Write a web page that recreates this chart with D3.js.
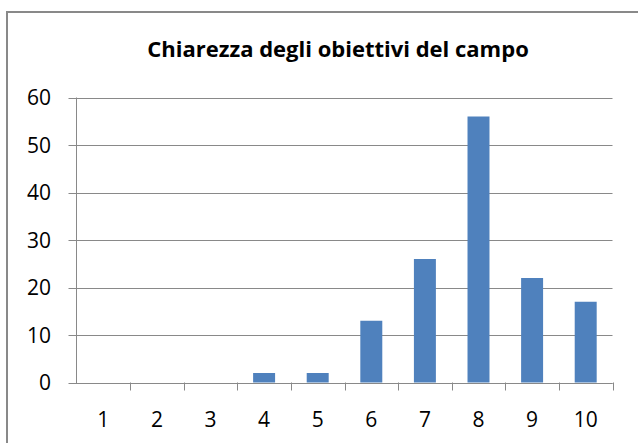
<!DOCTYPE html>
<html>
<head>
<meta charset="utf-8">
<script src="https://cdn.jsdelivr.net/npm/d3@7"></script>
<style>
  body { margin: 0; background: #fff; }
  svg { display: block; font-family: "Open Sans", "Liberation Sans", sans-serif; }
</style>
</head>
<body>
<svg id="chart" width="638" height="443"></svg>
<script>
// chart data
let categories = ['1', '2', '3', '4', '5', '6', '7', '8', '9', '10'];
let values = [0, 0, 0, 2, 2, 13, 26, 56, 22, 17];
let yTicks = [0, 10, 20, 30, 40, 50, 60];
let title = 'Chiarezza degli obiettivi del campo';

let svg = d3.select('#chart'),
    width = +svg.attr('width'),
    height = +svg.attr('height');

let margin = {top: 97.5, right: 25.5, bottom: 60.5, left: 76.5};

const gray = '#898989';

// outer frame (runs off the right and bottom edges)
svg.append('rect')
  .attr('x', 7)
  .attr('y', 12)
  .attr('width', 700)
  .attr('height', 500)
  .attr('fill', '#fff')
  .attr('stroke', gray)
  .attr('stroke-width', 2);

let x = d3.scaleBand()
  .domain(categories)
  .range([margin.left, width - margin.right])
  .paddingInner(0.59)
  .paddingOuter(0.295);

let band = d3.scaleBand()
  .domain(categories)
  .range([margin.left, width - margin.right]);

let y = d3.scaleLinear()
  .domain([0, 60])
  .range([height - margin.bottom, margin.top]);

// gridlines
svg.append('g')
  .selectAll('line')
  .data(yTicks)
  .enter()
  .append('line')
  .attr('x1', margin.left - 8)
  .attr('x2', width - margin.right)
  .attr('y1', (d) => Math.round(y(d)) + 0.5)
  .attr('y2', (d) => Math.round(y(d)) + 0.5)
  .attr('stroke', gray)
  .attr('stroke-width', 1);

// y axis line
svg.append('line')
  .attr('x1', margin.left)
  .attr('x2', margin.left)
  .attr('y1', y(60))
  .attr('y2', y(0) + 1)
  .attr('stroke', gray);

// bars
svg.append('g')
  .selectAll('rect')
  .data(values)
  .enter()
  .append('rect')
  .attr('x', (d, i) => x(categories[i]))
  .attr('width', x.bandwidth())
  .attr('y', (d) => y(d))
  .attr('height', (d) => y(0) - y(d))
  .attr('fill', '#4F81BD');

// x axis
let xAxis = svg.append('g')
  .attr('transform', `translate(0,${Math.round(y(0)) + 0.5})`)
  .call(d3.axisBottom(band)
    .tickSize(0)
    .tickFormat(''));
xAxis.select('.domain').attr('stroke', gray).attr('d', `M${margin.left},0H${width - margin.right}`);

// x tick marks at category boundaries
svg.append('g')
  .selectAll('line')
  .data(categories)
  .enter()
  .append('line')
  .attr('x1', (d) => Math.round(band(d) + band.bandwidth()) + 0.5)
  .attr('x2', (d) => Math.round(band(d) + band.bandwidth()) + 0.5)
  .attr('y1', y(0))
  .attr('y2', y(0) + 8)
  .attr('stroke', gray);

// x labels
svg.append('g')
  .selectAll('text')
  .data(categories)
  .enter()
  .append('text')
  .text((d) => d)
  .attr('x', (d) => band(d) + band.bandwidth() / 2)
  .attr('y', 427)
  .attr('text-anchor', 'middle')
  .attr('font-size', 21)
  .attr('fill', '#000');

// y labels
svg.append('g')
  .selectAll('text')
  .data(yTicks)
  .enter()
  .append('text')
  .text((d) => d)
  .attr('x', 51)
  .attr('y', (d) => y(d) + 7.5)
  .attr('text-anchor', 'end')
  .attr('font-size', 21)
  .attr('fill', '#000');

// title
svg.append('text')
  .text(title)
  .attr('x', 338)
  .attr('y', 57)
  .attr('text-anchor', 'middle')
  .attr('font-size', 22)
  .attr('font-weight', 'bold')
  .attr('fill', '#000');
</script>
</body>
</html>
